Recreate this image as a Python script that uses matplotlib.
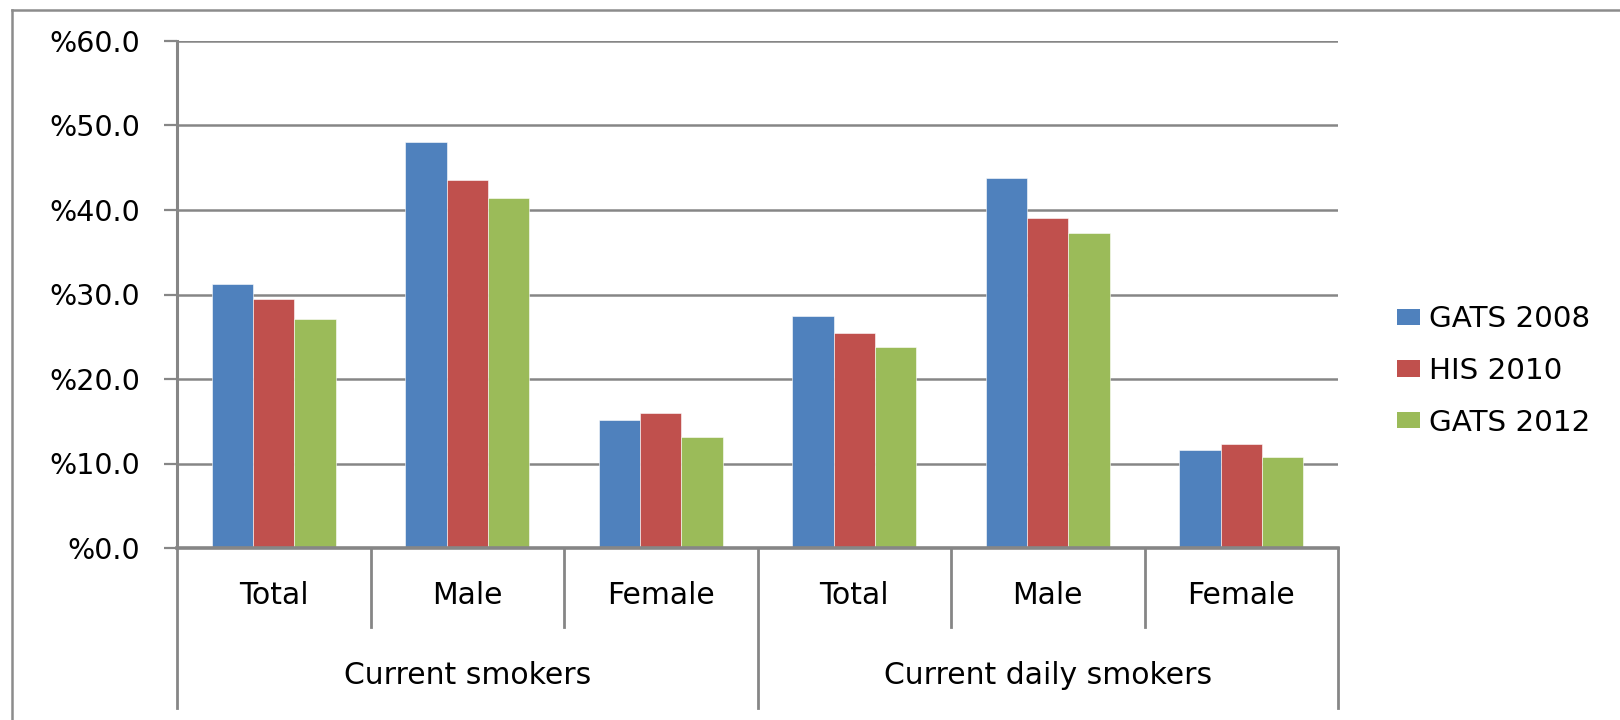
import matplotlib
matplotlib.use("Agg")
import matplotlib.pyplot as plt
import matplotlib.transforms as mtransforms
from matplotlib.lines import Line2D
from matplotlib.patches import Patch
import numpy as np

groups = ["Current smokers", "Current daily smokers"]
subcats = ["Total", "Male", "Female", "Total", "Male", "Female"]
series = ["GATS 2008", "HIS 2010", "GATS 2012"]
gats2008 = [31.3, 48.0, 15.2, 27.5, 43.8, 11.6]
his2010 = [29.5, 43.5, 16.0, 25.4, 39.1, 12.3]
gats2012 = [27.1, 41.4, 13.1, 23.8, 37.3, 10.8]
yticks = [0, 10, 20, 30, 40, 50, 60]
colors = ["#4F81BD", "#C0504D", "#9BBB59"]

W, H = 1620, 720
fig = plt.figure(figsize=(W / 100, H / 100), dpi=100)
fig.patch.set_facecolor("white")

# outer chart frame (left and top edges visible)
gray = "#8C8C8C"
fig.add_artist(Line2D([12 / W, 12 / W], [0, 1 - 10 / H], color=gray, lw=1.8))
fig.add_artist(Line2D([12 / W, 1], [1 - 10 / H, 1 - 10 / H], color=gray, lw=1.8))

left, right, top, bottom = 177, 1338, 41, 548
ax = fig.add_axes([left / W, 1 - bottom / H, (right - left) / W, (bottom - top) / H])

x = np.arange(len(subcats))
bw = 0.213
for i, (vals, c, name) in enumerate(zip([gats2008, his2010, gats2012], colors, series)):
    ax.bar(x + (i - 1) * bw, vals, width=bw, color=c, label=name, zorder=3,
           edgecolor="white", linewidth=0.4)

ax.set_xlim(-0.5, len(subcats) - 0.5)
ax.set_ylim(0, 60)
ax.set_yticks(yticks)
ax.set_yticklabels(["%" + f"{v:.1f}" for v in yticks], fontsize=20.5,
                   family="DejaVu Sans")
ax.tick_params(axis="y", length=9.5, width=1.6, color="#868686", pad=17)
ax.yaxis.grid(True, color="#868686", lw=1.8, zorder=0)
ax.set_xticks([])

for s in ["top", "right"]:
    ax.spines[s].set_visible(False)
ax.spines["left"].set_color("#868686")
ax.spines["left"].set_linewidth(2.2)
ax.spines["bottom"].set_color("#868686")
ax.spines["bottom"].set_linewidth(2.6)
ax.spines["bottom"].set_zorder(4)

trans = mtransforms.blended_transform_factory(ax.transData, ax.transAxes)
axh = bottom - top
y_short = -(627 - bottom) / axh
y_long = -(708 - bottom) / axh
for b in np.arange(-0.5, len(subcats), 1.0):
    is_long = (b == -0.5) or (b == len(subcats) - 0.5) or (b == 2.5)
    ax.plot([b, b], [0, y_long if is_long else y_short], transform=trans,
            color="#868686", lw=2.0, clip_on=False, zorder=5)

y_sub = -(595 - bottom) / axh
y_grp = -(675 - bottom) / axh
for xi, lab in zip(x, subcats):
    ax.text(xi, y_sub, lab, transform=trans, ha="center", va="center",
            fontsize=21.5, family="DejaVu Sans")
for gi, g in enumerate(groups):
    ax.text(gi * 3 + 1, y_grp, g, transform=trans, ha="center", va="center",
            fontsize=21.5, family="DejaVu Sans")

handles = [Patch(facecolor=c, edgecolor="none") for c in colors]
leg = fig.legend(handles, series, loc="center left",
                 bbox_to_anchor=(1397 / W, 1 - 371 / H),
                 frameon=False, handlelength=0.77, handleheight=0.5,
                 handletextpad=0.3, labelspacing=0.8, borderpad=0, borderaxespad=0,
                 prop={"family": "DejaVu Sans", "size": 21.2})

fig.savefig("out.png", dpi=100)
